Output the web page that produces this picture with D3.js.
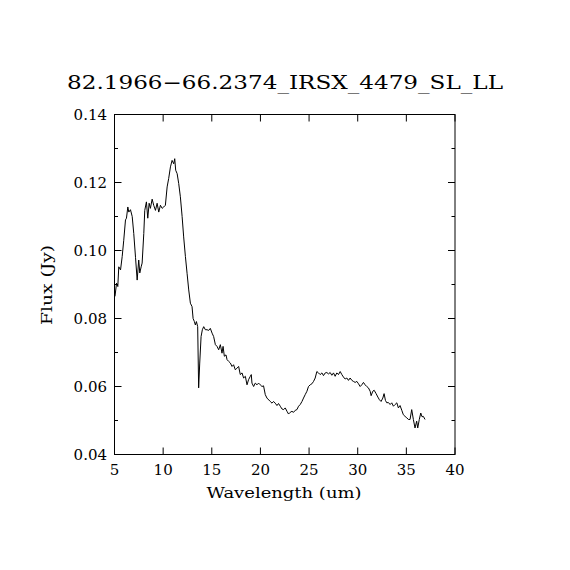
<!DOCTYPE html>
<html>
<head>
<meta charset="utf-8">
<script src="https://cdn.jsdelivr.net/npm/d3@7"></script>
<style>
  body { margin: 0; background: #fff; }
  text { font-family: "DejaVu Serif", "Liberation Serif", serif; fill: #000; }
</style>
</head>
<body>
<svg id="chart" width="570" height="570"></svg>
<script>
var title = "82.1966\u221266.2374_IRSX_4479_SL_LL";

// spectrum
var wavelength = [5.05, 5.21, 5.34, 5.44, 5.62, 5.79, 5.95, 6.13, 6.23, 6.37, 6.47, 6.64, 6.82, 6.98,
  7.16, 7.33, 7.49, 7.60, 7.74, 7.84, 8.01, 8.11, 8.28, 8.42, 8.56, 8.69, 8.87, 9.03, 9.21, 9.38,
  9.55, 9.72, 9.90, 10.06, 10.23, 10.41, 10.57, 10.75, 10.92, 11.09, 11.19, 11.29, 11.44, 11.60,
  11.77, 11.95, 12.11, 12.29, 12.46, 12.63, 12.80, 12.97, 13.08, 13.21, 13.31, 13.42, 13.55, 13.65,
  13.76, 13.90, 14.03, 14.17, 14.34, 14.51, 14.68, 14.85, 15.03, 15.19, 15.37, 15.54, 15.71, 15.88,
  16.05, 16.16, 16.29, 16.46, 16.57, 16.73, 16.91, 17.08, 17.24, 17.42, 17.59, 17.76, 17.93, 18.11,
  18.27, 18.45, 18.62, 18.78, 18.96, 19.06, 19.13, 19.30, 19.47, 19.65, 19.81, 19.98, 20.16, 20.32,
  20.50, 20.67, 21.01, 21.19, 21.35, 21.52, 21.70, 21.86, 22.04, 22.21, 22.38, 22.55, 22.73, 22.89,
  23.06, 23.24, 23.40, 23.58, 23.75, 23.92, 24.09, 24.27, 24.43, 24.60, 24.78, 24.94, 25.12, 25.29,
  25.46, 25.63, 25.80, 25.97, 26.14, 26.32, 26.48, 26.66, 26.83, 26.99, 27.17, 27.34, 27.51, 27.68,
  27.85, 28.02, 28.20, 28.37, 28.53, 28.71, 28.88, 29.05, 29.22, 29.40, 29.56, 29.74, 29.91, 30.08,
  30.25, 30.42, 30.59, 30.76, 30.93, 31.10, 31.28, 31.38, 31.55, 31.69, 31.89, 32.07, 32.23, 32.40,
  32.58, 32.71, 32.85, 32.99, 33.15, 33.33, 33.50, 33.67, 33.84, 34.02, 34.18, 34.35, 34.53, 34.69,
  34.87, 35.04, 35.21, 35.38, 35.55, 35.72, 35.89, 36.06, 36.17, 36.33, 36.48, 36.61, 36.75, 36.92];
var flux = [0.0865, 0.0904, 0.0894, 0.0952, 0.0943, 0.0982, 0.1030, 0.1090, 0.1095, 0.1128, 0.1113, 0.1120, 0.1100, 0.1050,
  0.0980, 0.0913, 0.0972, 0.0934, 0.0952, 0.0963, 0.1050, 0.1118, 0.1143, 0.1095, 0.1139, 0.1124, 0.1151, 0.1133, 0.1118, 0.1139,
  0.1113, 0.1133, 0.1124, 0.1128, 0.1133, 0.1187, 0.1212, 0.1246, 0.1265, 0.1255, 0.1270, 0.1236, 0.1226, 0.1197,
  0.1158, 0.1100, 0.1040, 0.0982, 0.0933, 0.0884, 0.0845, 0.0835, 0.0800, 0.0791, 0.0781, 0.0791, 0.0776, 0.0596,
  0.0669, 0.0747, 0.0767, 0.0776, 0.0767, 0.0767, 0.0765, 0.0771, 0.0757, 0.0747, 0.0723, 0.0718, 0.0708, 0.0723,
  0.0698, 0.0718, 0.0689, 0.0693, 0.0679, 0.0674, 0.0669, 0.0659, 0.0664, 0.0649, 0.0654, 0.0659, 0.0635, 0.0640,
  0.0625, 0.0630, 0.0605, 0.0620, 0.0630, 0.0635, 0.0610, 0.0600, 0.0610, 0.0605, 0.0610, 0.0605, 0.0600, 0.0602,
  0.0576, 0.0566, 0.0556, 0.0551, 0.0556, 0.0551, 0.0544, 0.0550, 0.0542, 0.0534, 0.0532, 0.0537, 0.0527, 0.0519,
  0.0524, 0.0527, 0.0524, 0.0530, 0.0532, 0.0542, 0.0547, 0.0556, 0.0566, 0.0576, 0.0586, 0.0600, 0.0605, 0.0608,
  0.0615, 0.0625, 0.0644, 0.0640, 0.0635, 0.0640, 0.0632, 0.0640, 0.0641, 0.0637, 0.0641, 0.0633, 0.0640, 0.0630,
  0.0640, 0.0635, 0.0644, 0.0635, 0.0628, 0.0622, 0.0625, 0.0618, 0.0625, 0.0618, 0.0615, 0.0612, 0.0615, 0.0608,
  0.0600, 0.0605, 0.0612, 0.0605, 0.0600, 0.0596, 0.0586, 0.0573, 0.0586, 0.0589, 0.0579, 0.0569, 0.0561, 0.0556,
  0.0566, 0.0579, 0.0559, 0.0552, 0.0553, 0.0547, 0.0552, 0.0542, 0.0547, 0.0552, 0.0537, 0.0544, 0.0530, 0.0517,
  0.0512, 0.0508, 0.0503, 0.0503, 0.0532, 0.0503, 0.0478, 0.0498, 0.0478, 0.0503, 0.0522, 0.0511, 0.0512, 0.0503];

var xTicks = [5, 10, 15, 20, 25, 30, 35, 40];
var yTicks = [0.04, 0.06, 0.08, 0.10, 0.12, 0.14];
var yMinorTicks = [0.05, 0.07, 0.09, 0.11, 0.13];

var frame = {left: 114.5, right: 455, top: 114.5, bottom: 454.5};

var svg = d3.select("#chart");
var x = d3.scaleLinear().domain([5, 40]).range([frame.left, frame.right]);
var y = d3.scaleLinear().domain([0.04, 0.14]).range([frame.bottom, frame.top]);

//frame
svg.append("rect")
  .attr("x", frame.left).attr("y", frame.top)
  .attr("width", frame.right - frame.left).attr("height", frame.bottom - frame.top)
  .attr("fill", "none").attr("stroke", "#000").attr("stroke-width", 1);

//inward ticks on all four sides
var g = svg.append("g").attr("stroke", "#000").attr("stroke-width", 1);
xTicks.forEach(function(t){
  g.append("line").attr("x1", x(t)).attr("x2", x(t)).attr("y1", frame.bottom).attr("y2", frame.bottom - 7);
  g.append("line").attr("x1", x(t)).attr("x2", x(t)).attr("y1", frame.top).attr("y2", frame.top + 7);
});
yTicks.forEach(function(t){
  g.append("line").attr("y1", y(t)).attr("y2", y(t)).attr("x1", frame.left).attr("x2", frame.left + 7);
  g.append("line").attr("y1", y(t)).attr("y2", y(t)).attr("x1", frame.right).attr("x2", frame.right - 7);
});
yMinorTicks.forEach(function(t){
  g.append("line").attr("y1", y(t)).attr("y2", y(t)).attr("x1", frame.left).attr("x2", frame.left + 3.5);
  g.append("line").attr("y1", y(t)).attr("y2", y(t)).attr("x1", frame.right).attr("x2", frame.right - 3.5);
});

//tick labels
svg.selectAll(".xl").data(xTicks).enter().append("text")
  .attr("class", "xl")
  .attr("x", function(d){ return x(d); })
  .attr("y", 475)
  .attr("text-anchor", "middle")
  .attr("font-size", 15)
  .text(function(d){ return d; });

svg.selectAll(".yl").data(yTicks).enter().append("text")
  .attr("class", "yl")
  .attr("x", 107)
  .attr("y", function(d){ return y(d) + 5; })
  .attr("text-anchor", "end")
  .attr("font-size", 15)
  .text(function(d){ return d3.format(".2f")(d); });

//spectrum
var pts = wavelength.map(function(w, i){ return [w, flux[i]]; });
var line = d3.line().x(function(d){ return x(d[0]); }).y(function(d){ return y(d[1]); });
svg.append("path").datum(pts)
  .attr("d", line)
  .attr("fill", "none").attr("stroke", "#000").attr("stroke-width", 1);

//titles (stretched to the width of the original plotter font)
svg.append("text")
  .attr("x", 285).attr("y", 89)
  .attr("text-anchor", "middle")
  .attr("font-size", 19)
  .attr("textLength", 436).attr("lengthAdjust", "spacingAndGlyphs")
  .text(title);

svg.append("text")
  .attr("x", 284).attr("y", 497.5)
  .attr("text-anchor", "middle")
  .attr("font-size", 15)
  .attr("textLength", 155).attr("lengthAdjust", "spacingAndGlyphs")
  .text("Wavelength (um)");

svg.append("text")
  .attr("transform", "translate(52,285) rotate(-90)")
  .attr("text-anchor", "middle")
  .attr("font-size", 15)
  .attr("textLength", 80).attr("lengthAdjust", "spacingAndGlyphs")
  .text("Flux (Jy)");
</script>
</body>
</html>
